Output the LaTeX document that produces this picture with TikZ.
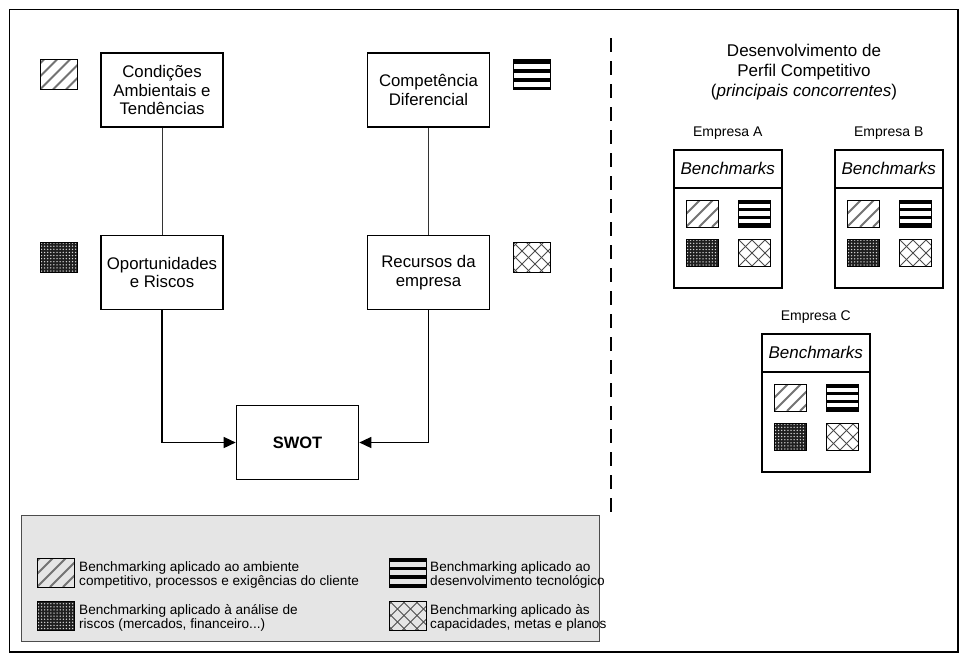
\documentclass[tikz,border=0pt]{standalone}
\usepackage{fontspec}
\setmainfont{Liberation Sans}
\usetikzlibrary{arrows.meta}
\begin{document}
\begin{tikzpicture}[x=1pt,y=-1pt,
  mainbox/.style={draw, line width=1.6pt, minimum width=122pt, minimum height=74pt,
    inner sep=0pt, align=center, font=\fontsize{16.8}{18.5}\selectfont},
  swatch/.style={draw, line width=0.8pt, minimum width=37pt, minimum height=30pt, inner sep=0pt},
  small swatch/.style={swatch, minimum width=32pt, minimum height=27pt},
  hatchfill/.style={path picture={
    \foreach \k in {-4,...,4}
      \draw[black!55, line width=2pt]
        ([xshift=\k*13pt]path picture bounding box.south west) -- ++(48pt,48pt);}},
  stripefill/.style={path picture={
    \foreach \k in {0,...,3}
      \fill[black] ([yshift=-\k*#1]path picture bounding box.north west)
        rectangle ++(50pt,-0.45*#1);}},
  dotfill/.style={path picture={
    \fill[black!88] ([xshift=-1pt,yshift=-1pt]path picture bounding box.south west)
      rectangle ([xshift=1pt,yshift=1pt]path picture bounding box.north east);
    \foreach \i in {0,...,12}
      \foreach \j in {0,...,10}
        \fill[white!85!black] ([xshift=\i*3.1pt+1.5pt, yshift=\j*3.1pt+1.5pt]path picture bounding box.south west)
          circle (0.75pt);}},
  crossfill/.style={path picture={
    \foreach \k in {-4,...,4} {
      \draw[black!70, line width=0.9pt]
        ([xshift=\k*13pt]path picture bounding box.south west) -- ++(48pt,48pt);
      \draw[black!70, line width=0.9pt]
        ([xshift=\k*13pt]path picture bounding box.north west) -- ++(48pt,-48pt);}}},
  cobox/.style={draw, line width=1.5pt, minimum width=108pt, minimum height=138pt, inner sep=0pt},
  colabel/.style={font=\fontsize{14}{16}\selectfont, inner sep=0pt},
  bench/.style={font=\fontsize{17}{19}\selectfont\itshape, inner sep=0pt},
  legendbox/.style={draw=black!70, line width=0.8pt, fill=black!10, minimum width=578pt,
    minimum height=126pt, inner sep=0pt},
  legtext/.style={font=\fontsize{13.6}{14}\selectfont, align=left, inner sep=0pt},
  thinlink/.style={draw=black!80, line width=0.9pt},
  arrowlink/.style={draw, line width=1.4pt, -{Triangle[length=12pt,width=11pt]}},
  divider/.style={draw, line width=1.3pt, dash pattern=on 14pt off 9pt},
]
\useasboundingbox (0,0) rectangle (968,662);
\fill[white] (0,0) rectangle (968,662);
% outer frame
\draw[line width=1.2pt] (9.5,9.5) rectangle (958,652);

% main flow boxes
\node[mainbox] (cond)   at (162,90)    {Condições\\Ambientais e\\Tendências};
\node[mainbox] (comp)   at (428.5,90)  {Competência\\Diferencial};
\node[mainbox] (oport)  at (162,272.5) {Oportunidades\\e Riscos};
\node[mainbox] (rec)    at (428.5,272.5) {Recursos da\\empresa};
\node[mainbox, font=\fontsize{16.5}{18}\selectfont\bfseries] (swot) at (297.5,442.5) {SWOT};

% pattern keys beside the boxes
\node[swatch, hatchfill]       (kcond)  at (58.5,74.5)  {};
\node[swatch, stripefill=9pt]  (kcomp)  at (532,74.5)   {};
\node[swatch, dotfill]         (koport) at (58.5,257.5) {};
\node[swatch, crossfill]       (krec)   at (532,257.5)  {};

% connectors
\path[thinlink] (cond) -- (oport);
\path[thinlink] (comp) -- (rec);
\path[arrowlink] (oport.south) |- (swot.west);
\path[arrowlink] (rec.south) |- (swot.east);

% dashed separator
\coordinate (dtop) at (611,38);
\coordinate (dbot) at (611,512);
\path[divider] (dtop) -- (dbot);

% competitive profile
\node[align=center, font=\fontsize{17}{20}\selectfont, inner sep=0pt] (title) at (804,72)
  {Desenvolvimento de\\Perfil Competitivo\\(\textit{principais concorrentes})};

\foreach \nm/\lab/\lx/\ty in {a/Empresa A/673/149, b/Empresa B/834/149, c/Empresa C/761/333} {
  \node[cobox, anchor=north west] (co\nm) at (\lx,\ty) {};
  \node[colabel] (lab\nm) at ([yshift=16pt]co\nm.north) {\lab};
  \draw[line width=1.5pt] ([yshift=-39pt]co\nm.north west) -- ([yshift=-39pt]co\nm.north east);
  \node[bench] (bm\nm) at ([yshift=-19.5pt]co\nm.north) {Benchmarks};
  \node[small swatch, hatchfill]        (h\nm) at ([xshift=29pt, yshift=-64.5pt]co\nm.north west) {};
  \node[small swatch, stripefill=7.8pt] (s\nm) at ([xshift=81.5pt, yshift=-64.5pt]co\nm.north west) {};
  \node[small swatch, dotfill]          (d\nm) at ([xshift=29pt, yshift=-104pt]co\nm.north west) {};
  \node[small swatch, crossfill]        (x\nm) at ([xshift=81.5pt, yshift=-104pt]co\nm.north west) {};
}

% legend
\node[legendbox, anchor=north west] (legend) at (21,515) {};
\node[swatch, hatchfill, minimum height=29pt]      (lk1) at (55.5,572.5) {};
\node[swatch, dotfill, minimum height=29pt]        (lk2) at (55.5,615.5) {};
\node[swatch, stripefill=8.5pt, minimum height=29pt] (lk3) at (408,572.5) {};
\node[swatch, crossfill, minimum height=29pt]      (lk4) at (408,615.5) {};
\node[legtext, anchor=west] (lt1) at (79,575)
  {Benchmarking aplicado ao ambiente\\competitivo, processos e exigências do cliente};
\node[legtext, anchor=west] (lt2) at (79,618)
  {Benchmarking aplicado à análise de\\riscos (mercados, financeiro...)};
\node[legtext, anchor=west] (lt3) at (430,575)
  {Benchmarking aplicado ao\\desenvolvimento tecnológico};
\node[legtext, anchor=west] (lt4) at (430,618)
  {Benchmarking aplicado às\\capacidades, metas e planos};
\end{tikzpicture}
\end{document}
